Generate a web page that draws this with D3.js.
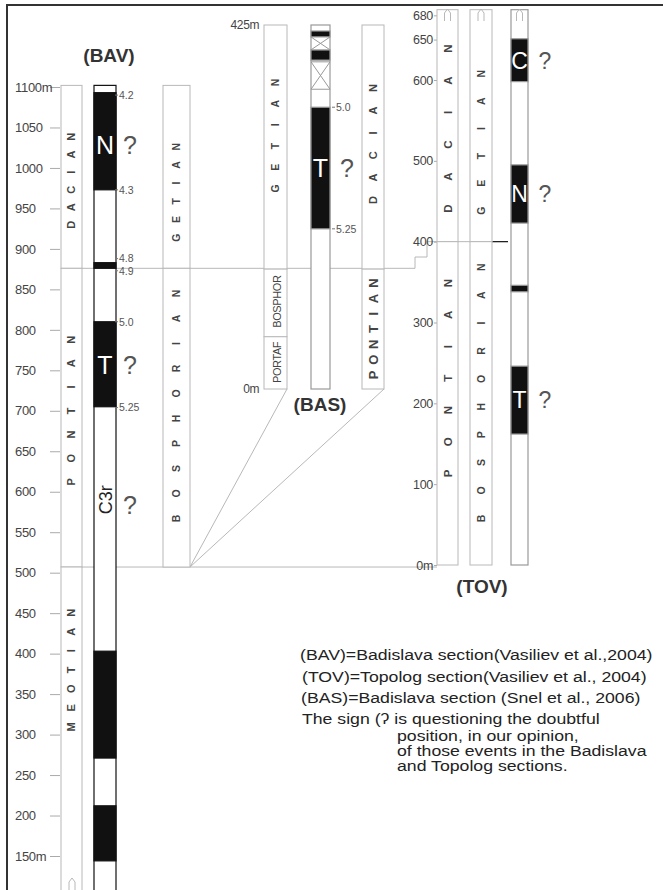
<!DOCTYPE html>
<html>
<head>
<meta charset="utf-8">
<script src="https://cdn.jsdelivr.net/npm/d3@7"></script>
<style>
  body { margin: 0; background: #fff; }
  svg { display: block; }
  text { font-family: "Liberation Sans", Arial, sans-serif; }
</style>
</head>
<body>
<div id="chart"></div>
<script>
// ---- data (metres in each section) ----
// BAV = Badislava (Vasiliev et al., 2004)
var bavTicks = [1100, 1050, 1000, 950, 900, 850, 800, 750, 700, 650, 600, 550, 500, 450, 400, 350, 300, 250, 200, 150];
var bavStagesA = [
  {name: "DACIAN", from: 876, to: 1102, mid: 984},
  {name: "PONTIAN", from: 507, to: 876, mid: 700},
  {name: "MEOTIAN", from: 100, to: 507, mid: 380}
];
var bavStagesB = [
  {name: "GETIAN", from: 876, to: 1102, mid: 970},
  {name: "BOSPHORIAN", from: 507, to: 876, mid: 706}
];
var bavBlack = [[1093, 973], [883, 876], [810, 705], [403, 271], [212, 144]];
var bavAges = [
  {age: "4.2", m: 1090}, {age: "4.3", m: 973}, {age: "4.8", m: 888},
  {age: "4.9", m: 873}, {age: "5.0", m: 810}, {age: "5.25", m: 704}
];
var bavChrons = [{label: "N", m: 1028}, {label: "T", m: 757}];
var bavC3r = {label: "C3r", m: 590};

// BAS = Badislava (Snel et al., 2006)
var basTicks = [425, 0];
var basStagesA = [
  {name: "GETIAN", from: 140, to: 425, mid: 296},
  {name: "BOSPHOR", from: 61, to: 140, mid: 102},
  {name: "PORTAF", from: 0, to: 61, mid: 31}
];
var basStagesB = [
  {name: "DACIAN", from: 140, to: 425, mid: 286},
  {name: "PONTIAN", from: 0, to: 140, mid: 70}
];
var basBlack = [[418, 411], [396, 384], [329, 187]];
var basGaps = [[411, 396], [382, 350]];
var basAges = [{age: "5.0", m: 329}, {age: "5.25", m: 187}];
var basChrons = [{label: "T", m: 258}];

// TOV = Topolog (Vasiliev et al., 2004)
var tovTicks = [680, 650, 600, 500, 400, 300, 200, 100, 0];
var tovStagesA = [
  {name: "DACIAN", from: 400, to: 687, mid: 540},
  {name: "PONTIAN", from: 0, to: 400, mid: 231}
];
var tovStagesB = [
  {name: "GETIAN", from: 400, to: 687, mid: 523},
  {name: "BOSPHORIAN", from: 0, to: 400, mid: 213}
];
var tovBlack = [[651, 598], [495, 423], [346, 338], [246, 162]];
var tovChrons = [{label: "C", m: 624}, {label: "N", m: 459}, {label: "T", m: 204}];

var legendLines = [
  "(BAV)=Badislava section(Vasiliev et al.,2004)",
  "(TOV)=Topolog section(Vasiliev et al., 2004)",
  "(BAS)=Badislava section (Snel et al., 2006)",
  "position, in our opinion,",
  "of those events in the Badislava",
  "and Topolog sections."
];

// ---- drawing ----
var width = 663, height = 890;
var grey = "#b8b8b8", ink = "#444";

var svg = d3.select("#chart").append("svg")
  .attr("width", width).attr("height", height);

var yBav = d3.scaleLinear().domain([1100, 150]).range([87, 856]);
var yBas = d3.scaleLinear().domain([0, 425]).range([389, 25]);
var yTov = d3.scaleLinear().domain([0, 600]).range([565, 80]);

// frame
svg.append("line").attr("x1", 6).attr("x2", width).attr("y1", 5).attr("y2", 5)
  .attr("stroke", "#333").attr("stroke-width", 2);
svg.append("line").attr("x1", 7).attr("x2", 7).attr("y1", 5).attr("y2", height)
  .attr("stroke", "#333").attr("stroke-width", 2);

// correlation lines
var links = svg.append("g").attr("fill", "none").attr("stroke", grey).attr("stroke-width", 1);
links.append("path")
  .attr("d", `M61,${yBav(876)}H415V257H427V${yTov(400)}H492`);
links.append("line").attr("x1", 61).attr("x2", 437)
  .attr("y1", yBav(507)).attr("y2", yBav(507));
links.append("line").attr("x1", 287).attr("y1", yBas(0)).attr("x2", 190).attr("y2", yBav(507));
links.append("line").attr("x1", 384).attr("y1", yBas(0)).attr("x2", 190).attr("y2", yBav(507));
svg.append("line").attr("x1", 492).attr("x2", 508)
  .attr("y1", yTov(400)).attr("y2", yTov(400))
  .attr("stroke", "#111").attr("stroke-width", 1.2);

function stageColumn(stages, y, x0, x1) {
  svg.append("g").selectAll("rect").data(stages).enter().append("rect")
    .attr("x", x0).attr("width", x1 - x0)
    .attr("y", d => y(d.to)).attr("height", d => y(d.from) - y(d.to))
    .attr("fill", "#fff").attr("stroke", grey).attr("stroke-width", 1);
}

// spaced, rotated stage names (first letter at the bottom)
function spaced(text, cx, cy, pitch, size, weight) {
  var n = text.length;
  var g = svg.append("g");
  text.split("").forEach(function(ch, i) {
    var yy = cy + (n - 1) / 2 * pitch - i * pitch;
    g.append("text")
      .attr("transform", `translate(${cx},${yy}) rotate(-90)`)
      .attr("text-anchor", "middle").attr("dy", "0.36em")
      .attr("font-size", size).attr("font-weight", weight || "bold")
      .attr("fill", ink).text(ch);
  });
}

function polarity(black, y, x0, x1, top, bottom, stroke) {
  svg.append("rect").attr("x", x0).attr("width", x1 - x0)
    .attr("y", y(top)).attr("height", y(bottom) - y(top))
    .attr("fill", "#fff").attr("stroke", stroke).attr("stroke-width", 1.2);
  svg.append("g").selectAll("rect").data(black).enter().append("rect")
    .attr("x", x0).attr("width", x1 - x0)
    .attr("y", d => y(d[0])).attr("height", d => y(d[1]) - y(d[0]))
    .attr("fill", "#111").attr("stroke", stroke).attr("stroke-width", 1.2);
}

function chronLetters(list, y, cx, qx, size) {
  list.forEach(function(c) {
    svg.append("text").attr("x", cx).attr("y", y(c.m)).attr("dy", "0.36em")
      .attr("text-anchor", "middle").attr("font-size", size)
      .attr("fill", "#fff").text(c.label);
    svg.append("text").attr("x", qx).attr("y", y(c.m)).attr("dy", "0.36em")
      .attr("text-anchor", "middle").attr("font-size", size)
      .attr("fill", "#555").text("?");
  });
}

function ageLabels(list, y, x) {
  var g = svg.append("g");
  g.selectAll("line").data(list).enter().append("line")
    .attr("x1", x - 4).attr("x2", x - 1)
    .attr("y1", d => y(d.m)).attr("y2", d => y(d.m))
    .attr("stroke", "#777");
  g.selectAll("text").data(list).enter().append("text")
    .attr("x", x).attr("y", d => y(d.m)).attr("dy", "0.36em")
    .attr("font-size", 10.5).attr("fill", "#555").text(d => d.age);
}

function arrowMark(cx, ytop) {
  svg.append("path")
    .attr("d", `M${cx - 3},${ytop + 12}V${ytop + 4}L${cx},${ytop}L${cx + 3},${ytop + 4}V${ytop + 12}`)
    .attr("fill", "none").attr("stroke", grey);
}

// ---- BAV ----
var bavAxis = svg.append("g").attr("transform", "translate(60,0)")
  .call(d3.axisLeft(yBav).tickValues(bavTicks).tickSize(10).tickFormat(d => d));
bavAxis.select(".domain").remove();
bavAxis.selectAll(".tick line").attr("stroke", "#aaa");
bavAxis.selectAll(".tick text").attr("text-anchor", "start").attr("x", -45)
  .attr("font-size", 13).attr("letter-spacing", -0.3)
  .attr("font-family", "Liberation Sans, Arial, sans-serif").attr("fill", "#444");
bavAxis.selectAll(".tick").filter(d => d === 1100 || d === 150)
  .select("text").append("tspan").text("m");

stageColumn(bavStagesA, yBav, 61, 82);
stageColumn(bavStagesB, yBav, 163, 190);
var pitchBav = {DACIAN: 17.6, PONTIAN: 23.7, MEOTIAN: 19, GETIAN: 18.2, BOSPHORIAN: 25};
bavStagesA.forEach(d => spaced(d.name, 71.5, yBav(d.mid), pitchBav[d.name], 11));
bavStagesB.forEach(d => spaced(d.name, 176.5, yBav(d.mid), pitchBav[d.name], 10.5));
arrowMark(72, 878);

polarity(bavBlack, yBav, 94, 116, 1102, 100, "#111");
chronLetters(bavChrons, yBav, 105, 130, 25);
svg.append("text")
  .attr("transform", `translate(106,${yBav(bavC3r.m)}) rotate(-90)`)
  .attr("text-anchor", "middle").attr("dy", "0.36em")
  .attr("font-size", 18).attr("fill", "#222").text(bavC3r.label);
svg.append("text").attr("x", 130).attr("y", yBav(bavC3r.m - 6)).attr("dy", "0.36em")
  .attr("text-anchor", "middle").attr("font-size", 25).attr("fill", "#555").text("?");
ageLabels(bavAges, yBav, 119);

svg.append("text").attr("x", 109).attr("y", 62).attr("text-anchor", "middle")
  .attr("font-size", 19).attr("font-weight", "bold").attr("fill", "#333").text("(BAV)");

// ---- BAS ----
var basAxis = svg.append("g").attr("transform", "translate(263,0)")
  .call(d3.axisLeft(yBas).tickValues(basTicks).tickSize(0).tickPadding(4).tickFormat(d => d + "m"));
basAxis.select(".domain").remove();
basAxis.selectAll(".tick text").attr("font-size", 12).attr("letter-spacing", -0.4)
  .attr("font-family", "Liberation Sans, Arial, sans-serif").attr("fill", "#444");

stageColumn(basStagesA, yBas, 264, 287);
stageColumn(basStagesB, yBas, 362, 384);
spaced("GETIAN", 275.5, yBas(296), 21.2, 10.5);
basStagesA.slice(1).forEach(function(d) {
  svg.append("text").attr("transform", `translate(277,${yBas(d.mid)}) rotate(-90)`)
    .attr("text-anchor", "middle").attr("dy", "0.36em")
    .attr("font-size", 11).attr("letter-spacing", -0.4).attr("fill", ink).text(d.name);
});
spaced("DACIAN", 373, yBas(basStagesB[0].mid), 22.4, 11);
spaced("PONTIAN", 373, yBas(basStagesB[1].mid), 15.3, 13);

polarity(basBlack, yBas, 311, 330, 425, 0, "#999");
svg.append("g").selectAll("path").data(basGaps).enter().append("path")
  .attr("d", d => `M311,${yBas(d[0])}L330,${yBas(d[0])}L311,${yBas(d[1])}L330,${yBas(d[1])}Z`)
  .attr("fill", "#fff").attr("stroke", "#999");
chronLetters(basChrons, yBas, 320.5, 347, 25);
ageLabels(basAges, yBas, 336);

svg.append("text").attr("x", 320).attr("y", 411).attr("text-anchor", "middle")
  .attr("font-size", 19).attr("font-weight", "bold").attr("fill", "#333").text("(BAS)");

// ---- TOV ----
var tovAxis = svg.append("g").attr("transform", "translate(437,0)")
  .call(d3.axisLeft(yTov).tickValues(tovTicks).tickSize(3).tickPadding(1)
    .tickFormat(d => d === 0 ? "0m" : d));
tovAxis.select(".domain").remove();
tovAxis.selectAll(".tick line").attr("stroke", "#aaa");
tovAxis.selectAll(".tick text").attr("font-size", 12.5).attr("letter-spacing", -0.3)
  .attr("font-family", "Liberation Sans, Arial, sans-serif").attr("fill", "#444");

stageColumn(tovStagesA, yTov, 437, 458);
stageColumn(tovStagesB, yTov, 470, 492);
var pitchTov = {DACIAN: 32, PONTIAN: 31.7, GETIAN: 27.4, BOSPHORIAN: 27.9};
tovStagesA.forEach(d => spaced(d.name, 447.5, yTov(d.mid), pitchTov[d.name], 11.5));
tovStagesB.forEach(d => spaced(d.name, 481, yTov(d.mid), pitchTov[d.name], 10.5));

polarity(tovBlack, yTov, 511, 528, 687, 0, "#999");
chronLetters(tovChrons, yTov, 519.5, 545, 23);
[447.5, 481, 519.5].forEach(cx => arrowMark(cx, 9));

svg.append("text").attr("x", 482).attr("y", 593).attr("text-anchor", "middle")
  .attr("font-size", 19).attr("font-weight", "bold").attr("fill", "#333").text("(TOV)");

// ---- legend (text is drawn a little wide, as in the scan) ----
var legend = svg.append("g").attr("font-size", 14.5).attr("fill", "#222");
function legendText(x, y) {
  return legend.append("text").attr("transform", `translate(${x},${y}) scale(1.22,1)`);
}
legendText(300, 660).text(legendLines[0]);
legendText(302, 682).text(legendLines[1]);
legendText(301, 703).text(legendLines[2]);
// the sign is printed as "(?" with the closing bracket run into the mark
legendText(302, 724).text("The sign (\u0294 is questioning the doubtful");
legendText(397, 741).text(legendLines[3]);
legendText(397, 756).text(legendLines[4]);
legendText(397, 771).text(legendLines[5]);
</script>
</body>
</html>
